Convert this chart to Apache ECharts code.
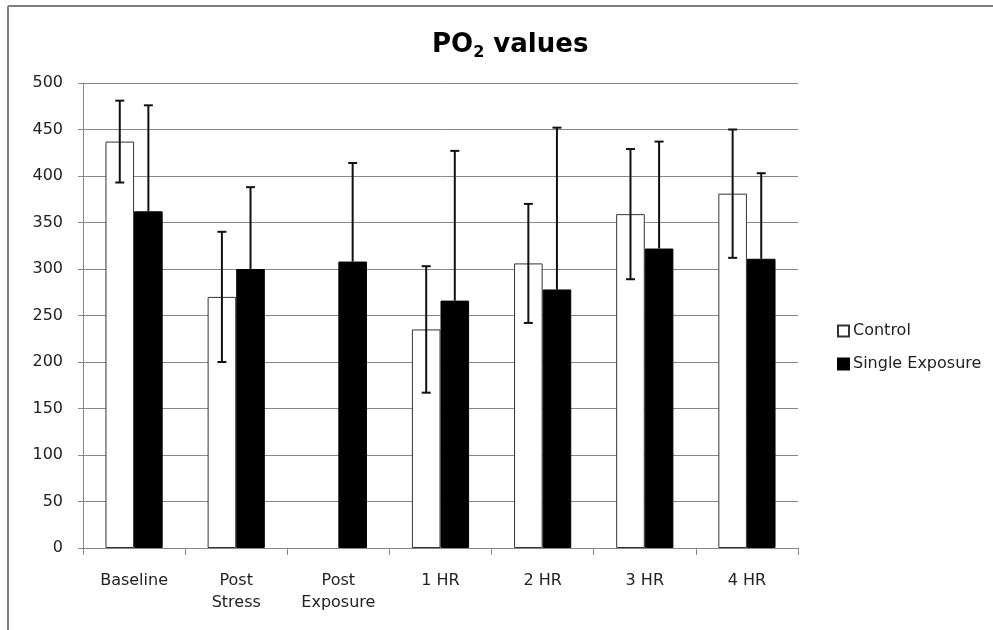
<!DOCTYPE html>
<html><head><meta charset="utf-8">
<script src="https://cdn.jsdelivr.net/npm/echarts@6/dist/echarts.min.js"></script>
<style>html,body{margin:0;padding:0;background:#fff}#c{width:993px;height:630px}</style>
</head><body><div id="c"></div>
<script>
var categories = ['Baseline', 'Post\nStress', 'Post\nExposure', '1 HR', '2 HR', '3 HR', '4 HR'];
var controlMean = [437, 270, null, 235, 306, 359, 381];
var controlErr = [44, 70, null, 68, 64, 70, 69];
var singleMean = [362, 300, 308, 266, 278, 322, 311];
var singleErr = [114, 88, 106, 161, 174, 115, 92];
var yTicks = [0, 50, 100, 150, 200, 250, 300, 350, 400, 450, 500];

var chart = echarts.init(document.getElementById('c'));
var FONT = 'DejaVu Sans';
var GAPFRAC = 0.44;

function errSeries(means, errs, side, name, upOnly) {
  var data = means.map(function (m, i) { return [i, m, errs[i]]; });
  return {
    type: 'custom', name: name + ' err', z: 10, silent: true,
    data: data,
    renderItem: function (params, api) {
      var m = api.value(1), e = api.value(2);
      if (m == null || isNaN(m) || e == null || isNaN(e)) return null;
      var catW = api.size([1, 0])[0];
      var bw = catW * (1 - GAPFRAC) / 2;
      var cx = api.coord([api.value(0), 0])[0] + side * bw / 2;
      var top = api.coord([api.value(0), m + e])[1];
      var bot = api.coord([api.value(0), upOnly ? m : m - e])[1];
      var cap = 4.5;
      var st = { stroke: '#111', lineWidth: 2 };
      var ch = [
        { type: 'line', shape: { x1: cx, y1: top, x2: cx, y2: bot }, style: st },
        { type: 'line', shape: { x1: cx - cap, y1: top, x2: cx + cap, y2: top }, style: st }
      ];
      if (!upOnly) ch.push({ type: 'line', shape: { x1: cx - cap, y1: bot, x2: cx + cap, y2: bot }, style: st });
      return { type: 'group', children: ch };
    }
  };
}

chart.setOption({
  animation: false,
  backgroundColor: '#fff',
  title: {
    text: '{a|PO}{s|2}{a| values}',
    left: 427, top: 25,
    textStyle: { rich: {
      a: { fontFamily: 'DejaVu Sans', fontWeight: 'bold', fontSize: 26, color: '#000' },
      s: { fontFamily: 'DejaVu Sans', fontWeight: 'bold', fontSize: 16, color: '#000', padding: [15, 0, 0, 0] }
    } }
  },
  legend: {
    orient: 'vertical', left: 832, top: 318, itemWidth: 11, itemHeight: 11, itemGap: 17,
    icon: 'rect',
    textStyle: { fontFamily: FONT, fontSize: 16, color: '#222', padding: [0, 0, 0, -1] },
    data: ['Control', 'Single Exposure']
  },
  grid: { left: 83, right: 195, top: 83, bottom: 82, containLabel: false },
  xAxis: {
    type: 'category', data: categories,
    axisLine: { lineStyle: { color: '#888', width: 1 } },
    axisTick: { show: true, alignWithLabel: false, length: 7, lineStyle: { color: '#888' } },
    axisLabel: { fontFamily: FONT, fontSize: 16, color: '#222', margin: 22, lineHeight: 22, interval: 0 }
  },
  yAxis: {
    type: 'value', min: 0, max: 500, interval: 50,
    axisLine: { show: true, lineStyle: { color: '#888', width: 1 } },
    axisTick: { show: true, length: 5, lineStyle: { color: '#888' } },
    splitLine: { lineStyle: { color: '#888', width: 1 } },
    axisLabel: { fontFamily: FONT, fontSize: 16, color: '#222', margin: 20,
      formatter: function (v) { return yTicks.indexOf(v) >= 0 ? String(v) : ''; } }
  },
  series: [
    { name: 'Control', type: 'bar', data: controlMean, barGap: '0%', barCategoryGap: (GAPFRAC * 100) + '%',
      itemStyle: { color: '#fff', borderColor: '#333', borderWidth: 1 } },
    { name: 'Single Exposure', type: 'bar', data: singleMean, barGap: '0%', barCategoryGap: (GAPFRAC * 100) + '%',
      itemStyle: { color: '#000', borderColor: '#000', borderWidth: 1 } },
    errSeries(controlMean, controlErr, -1, 'Control', false),
    errSeries(singleMean, singleErr, 1, 'Single Exposure', true)
  ],
  graphic: [
    { type: 'line', shape: { x1: 8, y1: 6, x2: 8, y2: 630 }, style: { stroke: '#808080', lineWidth: 2 } },
    { type: 'line', shape: { x1: 8, y1: 6, x2: 993, y2: 6 }, style: { stroke: '#808080', lineWidth: 2 } }
  ]
});
</script></body></html>
